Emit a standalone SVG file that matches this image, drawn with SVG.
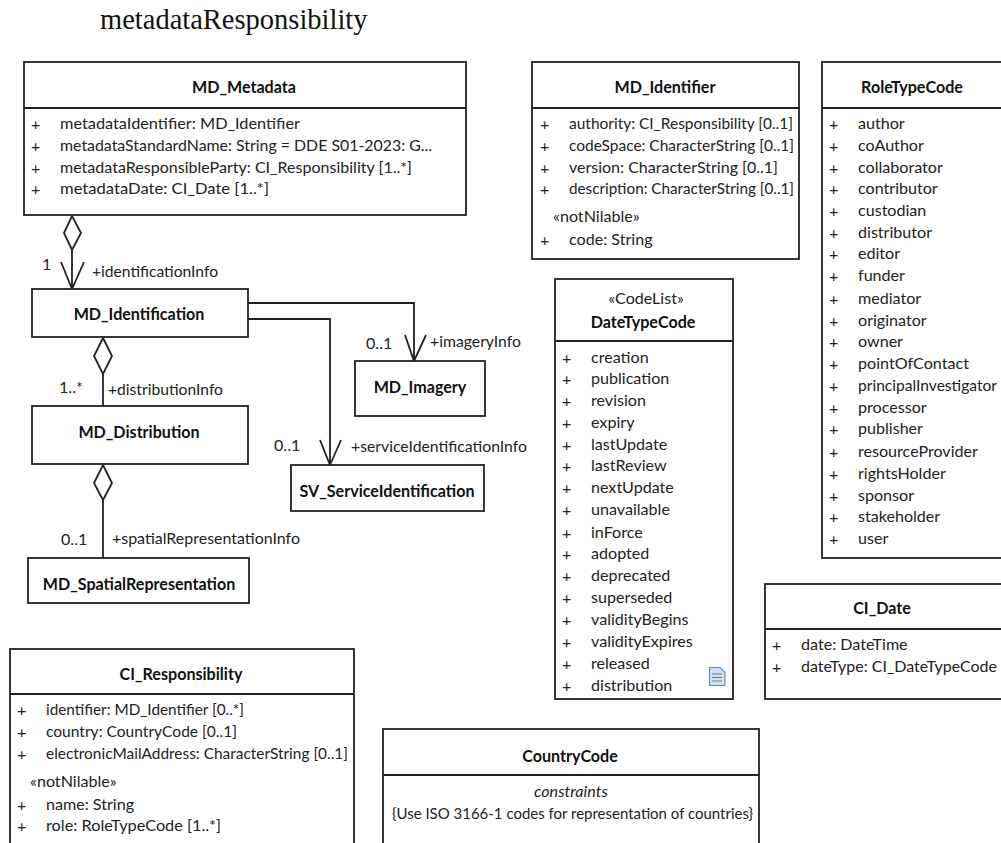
<svg xmlns="http://www.w3.org/2000/svg" width="1001" height="843" viewBox="0 0 1001 843">
<style>
text{font-family:Lato,"Open Sans",sans-serif;font-size:16.1px;fill:#222}
.t{font-weight:700;text-anchor:middle;fill:#111}
.m{text-anchor:middle}
.box{fill:#fff;stroke:#222;stroke-width:1.8}
.div{fill:none;stroke:#222;stroke-width:1.8}
.c{fill:none;stroke:#222;stroke-width:1.8}
.d{fill:#fff;stroke:#222;stroke-width:1.8}
</style>
<rect width="1001" height="843" fill="#fff"/>
<text x="100" y="29" style="font-family:'Liberation Serif',serif;font-size:28.5px;fill:#111">metadataResponsibility</text>
<g id="connectors">
<path class="c" d="M72 250V289M61 262L72 289L84 262"/>
<path class="d" d="M72 216L81 233L72 250L64 233Z"/>
<path class="c" d="M248 303H414V361M405 335L414 361L426 335"/>
<path class="c" d="M248 319H330V465M320 440L330 465L341 440"/>
<path class="c" d="M103 374V406"/>
<path class="d" d="M103 338L112 356L103 374L94 356Z"/>
<path class="c" d="M103 500V558"/>
<path class="d" d="M103 465L112 483L103 500L94 483Z"/>
<text x="42" y="270">1</text>
<text x="92" y="277" textLength="126" lengthAdjust="spacingAndGlyphs">+identificationInfo</text>
<text x="366" y="349">0..1</text>
<text x="430" y="347" textLength="91" lengthAdjust="spacingAndGlyphs">+imageryInfo</text>
<text x="59" y="393">1..*</text>
<text x="108" y="395" textLength="115" lengthAdjust="spacingAndGlyphs">+distributionInfo</text>
<text x="274" y="451">0..1</text>
<text x="351" y="452" textLength="176" lengthAdjust="spacingAndGlyphs">+serviceIdentificationInfo</text>
<text x="61" y="545">0..1</text>
<text x="112" y="544" textLength="188" lengthAdjust="spacingAndGlyphs">+spatialRepresentationInfo</text>
</g>
<g id="MD_Metadata">
<rect class="box" x="24" y="62" width="442" height="153"/><path class="div" d="M24 108H466"/>
<text class="t" x="244" y="93">MD_Metadata</text>
<text x="31" y="130">+</text><text x="60" y="129" textLength="240" lengthAdjust="spacingAndGlyphs">metadataIdentifier: MD_Identifier</text>
<text x="31" y="152">+</text><text x="60" y="151" textLength="372" lengthAdjust="spacingAndGlyphs">metadataStandardName: String = DDE S01-2023: G...</text>
<text x="31" y="174">+</text><text x="60" y="173" textLength="352" lengthAdjust="spacingAndGlyphs">metadataResponsibleParty: CI_Responsibility [1..*]</text>
<text x="31" y="195">+</text><text x="60" y="194" textLength="209" lengthAdjust="spacingAndGlyphs">metadataDate: CI_Date [1..*]</text>
</g>
<g id="MD_Identification"><rect class="box" x="32" y="289" width="216" height="48"/><text class="t" x="139" y="320">MD_Identification</text></g>
<g id="MD_Imagery"><rect class="box" x="355" y="361" width="130" height="55"/><text class="t" x="420" y="393">MD_Imagery</text></g>
<g id="MD_Distribution"><rect class="box" x="32" y="406" width="216" height="58"/><text class="t" x="139" y="438">MD_Distribution</text></g>
<g id="SV_ServiceIdentification"><rect class="box" x="291" y="465" width="193" height="46"/><text class="t" x="387" y="497">SV_ServiceIdentification</text></g>
<g id="MD_SpatialRepresentation"><rect class="box" x="28" y="558" width="221" height="45"/><text class="t" x="139" y="590">MD_SpatialRepresentation</text></g>
<g id="MD_Identifier">
<rect class="box" x="532" y="62" width="267" height="197"/><path class="div" d="M532 108H799"/>
<text class="t" x="665" y="93">MD_Identifier</text>
<text x="540" y="130">+</text><text x="569" y="129" textLength="224" lengthAdjust="spacingAndGlyphs">authority: CI_Responsibility [0..1]</text>
<text x="540" y="152">+</text><text x="569" y="151" textLength="225" lengthAdjust="spacingAndGlyphs">codeSpace: CharacterString [0..1]</text>
<text x="540" y="174">+</text><text x="569" y="173" textLength="209" lengthAdjust="spacingAndGlyphs">version: CharacterString [0..1]</text>
<text x="540" y="195">+</text><text x="569" y="194" textLength="225" lengthAdjust="spacingAndGlyphs">description: CharacterString [0..1]</text>
<text x="553" y="222">«notNilable»</text>
<text x="540" y="246">+</text><text x="569" y="245">code: String</text>
</g>
<g id="RoleTypeCode">
<rect class="box" x="822" y="62" width="190" height="496"/><path class="div" d="M822 108H1012"/>
<text class="t" x="912" y="93">RoleTypeCode</text>
<g id="role-rows">
<text x="829" y="130">+</text><text x="858" y="129">author</text>
<text x="829" y="152">+</text><text x="858" y="151">coAuthor</text>
<text x="829" y="174">+</text><text x="858" y="173">collaborator</text>
<text x="829" y="195">+</text><text x="858" y="194">contributor</text>
<text x="829" y="217">+</text><text x="858" y="216">custodian</text>
<text x="829" y="239">+</text><text x="858" y="238">distributor</text>
<text x="829" y="260">+</text><text x="858" y="259">editor</text>
<text x="829" y="282">+</text><text x="858" y="281">funder</text>
<text x="829" y="305">+</text><text x="858" y="304">mediator</text>
<text x="829" y="327">+</text><text x="858" y="326">originator</text>
<text x="829" y="348">+</text><text x="858" y="347">owner</text>
<text x="829" y="370">+</text><text x="858" y="369">pointOfContact</text>
<text x="829" y="392">+</text><text x="858" y="391" textLength="139" lengthAdjust="spacingAndGlyphs">principalInvestigator</text>
<text x="829" y="414">+</text><text x="858" y="413">processor</text>
<text x="829" y="435">+</text><text x="858" y="434">publisher</text>
<text x="829" y="458">+</text><text x="858" y="457">resourceProvider</text>
<text x="829" y="480">+</text><text x="858" y="479">rightsHolder</text>
<text x="829" y="502">+</text><text x="858" y="501">sponsor</text>
<text x="829" y="523">+</text><text x="858" y="522">stakeholder</text>
<text x="829" y="545">+</text><text x="858" y="544">user</text>
</g>
</g>
<g id="DateTypeCode">
<rect class="box" x="555" y="279" width="178" height="420"/><path class="div" d="M555 341H733"/>
<text class="m" x="646" y="304">«CodeList»</text>
<text class="t" x="643" y="328">DateTypeCode</text>
<text x="562" y="364">+</text><text x="591" y="363">creation</text>
<text x="562" y="385">+</text><text x="591" y="384">publication</text>
<text x="562" y="407">+</text><text x="591" y="406">revision</text>
<text x="562" y="429">+</text><text x="591" y="428">expiry</text>
<text x="562" y="451">+</text><text x="591" y="450">lastUpdate</text>
<text x="562" y="472">+</text><text x="591" y="471">lastReview</text>
<text x="562" y="494">+</text><text x="591" y="493">nextUpdate</text>
<text x="562" y="516">+</text><text x="591" y="515">unavailable</text>
<text x="562" y="539">+</text><text x="591" y="538">inForce</text>
<text x="562" y="560">+</text><text x="591" y="559">adopted</text>
<text x="562" y="582">+</text><text x="591" y="581">deprecated</text>
<text x="562" y="604">+</text><text x="591" y="603">superseded</text>
<text x="562" y="626">+</text><text x="591" y="625">validityBegins</text>
<text x="562" y="648">+</text><text x="591" y="647">validityExpires</text>
<text x="562" y="670">+</text><text x="591" y="669">released</text>
<text x="562" y="692">+</text><text x="591" y="691">distribution</text>
<path d="M709.5 667.5H720L725 672.500V685.500H709.500Z" fill="#cfe0f2" stroke="#5b8fc7" stroke-width="1.200"/>
<path d="M712 674H722M712 677.500H722M712 681H722" stroke="#607d8b" stroke-width="1" fill="none"/>
</g>
<g id="CI_Date">
<rect class="box" x="765" y="584" width="250" height="115"/><path class="div" d="M765 629H1015"/>
<text class="t" x="882" y="614">CI_Date</text>
<text x="772" y="651">+</text><text x="801" y="650">date: DateTime</text>
<text x="772" y="673">+</text><text x="801" y="672" textLength="196" lengthAdjust="spacingAndGlyphs">dateType: CI_DateTypeCode</text>
</g>
<g id="CI_Responsibility">
<rect class="box" x="10" y="649" width="344" height="210"/><path class="div" d="M10 694H354"/>
<text class="t" x="181" y="680">CI_Responsibility</text>
<text x="17" y="716">+</text><text x="46" y="715" textLength="198" lengthAdjust="spacingAndGlyphs">identifier: MD_Identifier [0..*]</text>
<text x="17" y="738">+</text><text x="46" y="737" textLength="191" lengthAdjust="spacingAndGlyphs">country: CountryCode [0..1]</text>
<text x="17" y="760">+</text><text x="46" y="759" textLength="302" lengthAdjust="spacingAndGlyphs">electronicMailAddress: CharacterString [0..1]</text>
<text x="30" y="787">«notNilable»</text>
<text x="17" y="811">+</text><text x="46" y="810">name: String</text>
<text x="17" y="832">+</text><text x="46" y="831" textLength="175" lengthAdjust="spacingAndGlyphs">role: RoleTypeCode [1..*]</text>
</g>
<g id="CountryCode">
<rect class="box" x="383" y="729" width="376" height="130"/><path class="div" d="M383 775H759"/>
<text class="t" x="570" y="762">CountryCode</text>
<text class="m" x="571" y="797" font-style="italic">constraints</text>
<text x="392" y="819" textLength="361" lengthAdjust="spacingAndGlyphs">{Use ISO 3166-1 codes for representation of countries}</text>
</g>
</svg>
